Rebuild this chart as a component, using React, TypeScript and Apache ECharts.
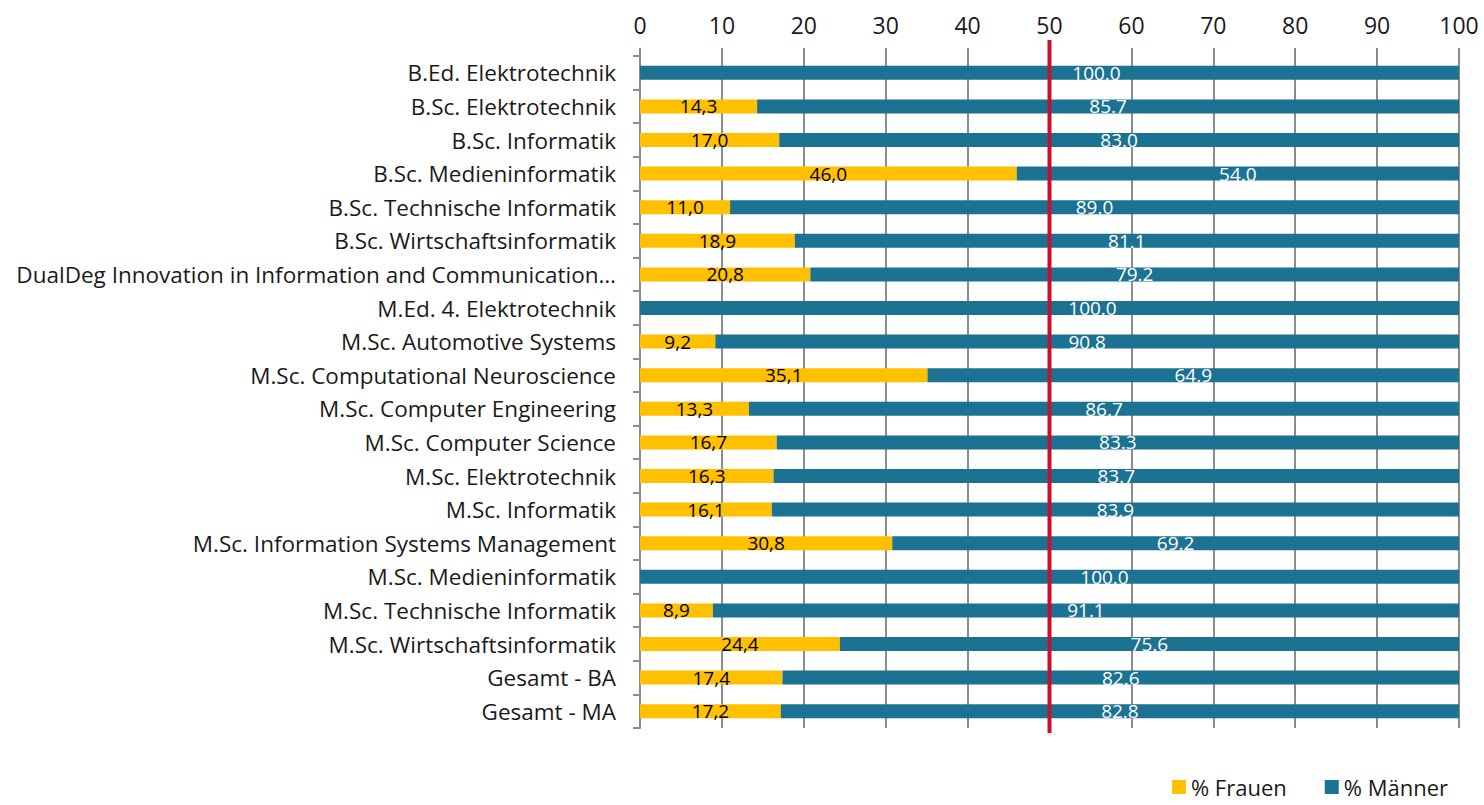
import React, { useEffect, useRef } from "react";
import * as echarts from "echarts";

const categories = [
  "B.Ed. Elektrotechnik",
  "B.Sc. Elektrotechnik",
  "B.Sc. Informatik",
  "B.Sc. Medieninformatik",
  "B.Sc. Technische Informatik",
  "B.Sc. Wirtschaftsinformatik",
  "DualDeg Innovation in Information and Communication…",
  "M.Ed. 4. Elektrotechnik",
  "M.Sc. Automotive Systems",
  "M.Sc. Computational Neuroscience",
  "M.Sc. Computer Engineering",
  "M.Sc. Computer Science",
  "M.Sc. Elektrotechnik",
  "M.Sc. Informatik",
  "M.Sc. Information Systems Management",
  "M.Sc. Medieninformatik",
  "M.Sc. Technische Informatik",
  "M.Sc. Wirtschaftsinformatik",
  "Gesamt - BA",
  "Gesamt - MA",
];

const frauen = [0, 14.3, 17.0, 46.0, 11.0, 18.9, 20.8, 0, 9.2, 35.1, 13.3, 16.7, 16.3, 16.1, 30.8, 0, 8.9, 24.4, 17.4, 17.2];
const maenner = [100, 85.7, 83.0, 54.0, 89.0, 81.1, 79.2, 100, 90.8, 64.9, 86.7, 83.3, 83.7, 83.9, 69.2, 100, 91.1, 75.6, 82.6, 82.8];

const xTicks = [0, 10, 20, 30, 40, 50, 60, 70, 80, 90, 100];
const referenceValue = 50;

// label nudges (pixels) for the men's labels in the reference
const menLabelShift: Record<number, number> = { 0: 47, 7: 43, 15: 55 };

const FONT = "'Open Sans', 'Noto Sans', sans-serif";
const GRID_COLOR = "#8c8c8c";

export default function App() {
  const ref = useRef<HTMLDivElement>(null);
  useEffect(() => {
    if (!ref.current) return;
    const chart = echarts.init(ref.current, undefined, { renderer: "svg" });
    const option: any = {
      animation: false,
      textStyle: { fontFamily: FONT },
      grid: { left: 640, right: 25, top: 56, bottom: 77, containLabel: false },
      legend: {
        right: 36,
        bottom: 5,
        padding: 0,
        itemWidth: 14,
        itemHeight: 14,
        itemGap: 38,
        icon: "rect",
        textStyle: { fontFamily: FONT, fontSize: 22, lineHeight: 26, color: "#1a1a1a" },
        data: ["% Frauen", "% Männer"],
      },
      xAxis: {
        type: "value",
        position: "top",
        min: xTicks[0],
        max: xTicks[xTicks.length - 1],
        interval: 10,
        axisLine: { show: false },
        axisTick: { show: true, length: 8, lineStyle: { color: GRID_COLOR, width: 2 } },
        splitLine: { show: true, lineStyle: { color: GRID_COLOR, width: 2 } },
        axisLabel: { fontFamily: FONT, fontSize: 23, color: "#1a1a1a", margin: 20 },
      },
      yAxis: {
        type: "category",
        inverse: true,
        data: categories,
        axisLine: { show: true, lineStyle: { color: GRID_COLOR, width: 2 } },
        axisTick: { show: true, length: 7, lineStyle: { color: GRID_COLOR, width: 2 } },
        axisLabel: { fontFamily: FONT, fontSize: 22.5, color: "#1a1a1a", margin: 24 },
      },
      series: [
        {
          name: "% Frauen",
          type: "bar",
          stack: "total",
          barWidth: 14,
          itemStyle: { color: "#FFC000" },
          label: {
            show: true,
            position: "inside",
            color: "#000",
            fontFamily: FONT,
            fontSize: 19,
            formatter: (p: any) => (p.value > 0 ? p.value.toFixed(1).replace(".", ",") : ""),
          },
          data: frauen,
        },
        {
          name: "% Männer",
          type: "bar",
          stack: "total",
          barWidth: 14,
          itemStyle: { color: "#1B7292" },
          label: {
            show: true,
            position: "inside",
            color: "#fff",
            fontFamily: FONT,
            fontSize: 19,
            formatter: (p: any) => p.value.toFixed(1),
          },
          data: maenner.map((v, i) =>
            menLabelShift[i] !== undefined
              ? { value: v, label: { offset: [menLabelShift[i], 0] } }
              : v
          ),
        },
      ],
    };
    chart.setOption(option);
    const x = chart.convertToPixel({ xAxisIndex: 0 }, referenceValue) as number;
    chart.setOption({
      graphic: [
        {
          type: "line",
          shape: { x1: x, y1: 40, x2: x, y2: 733 },
          style: { stroke: "#C8102E", lineWidth: 4 },
          z: 100,
        },
      ],
    });
    return () => chart.dispose();
  }, []);
  return <div ref={ref} style={{ width: 1484, height: 805, position: "absolute", left: 0, top: 0 }} />;
}
